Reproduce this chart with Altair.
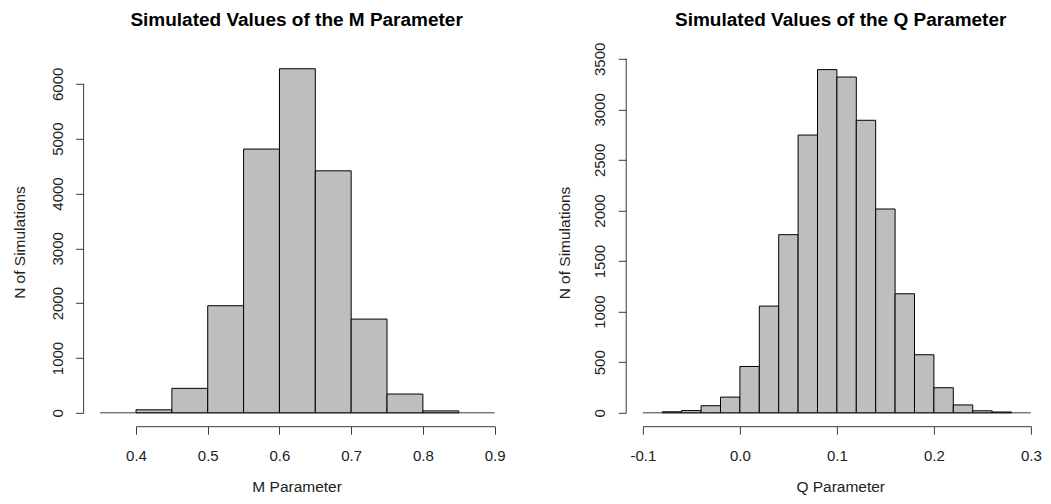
import altair as alt
import pandas as pd

# ---- data ----
m_bin_start = [0.40, 0.45, 0.50, 0.55, 0.60, 0.65, 0.70, 0.75, 0.80]
m_counts = [55, 446, 1953, 4810, 6275, 4413, 1709, 342, 35]
m_bin_width = 0.05
m_baseline = [0.35, 0.9]
m_xticks = [0.4, 0.5, 0.6, 0.7, 0.8, 0.9]
m_yticks = [0, 1000, 2000, 3000, 4000, 5000, 6000]

q_bin_start = [-0.08, -0.06, -0.04, -0.02, 0.00, 0.02, 0.04, 0.06, 0.08,
               0.10, 0.12, 0.14, 0.16, 0.18, 0.20, 0.22, 0.24, 0.26]
q_counts = [10, 22, 70, 155, 458, 1055, 1761, 2746, 3393,
            3320, 2892, 2015, 1177, 574, 248, 78, 20, 8]
q_bin_width = 0.02
q_baseline = [-0.1, 0.3]
q_xticks = [-0.1, 0.0, 0.1, 0.2, 0.3]
q_yticks = [0, 500, 1000, 1500, 2000, 2500, 3000, 3500]

FONT = "Liberation Sans"
BAR_FILL = "#bebebe"
AXIS_COLOR = "#3a3a3a"
LABEL_COLOR = "#222222"
PLOT_H = 354

x_label_expr = ("datum.value < 0 ? '-' + format(abs(datum.value), '.1f') "
                ": format(datum.value, '.1f')")


def panel(starts, counts, width_bin, baseline, xticks, yticks, y_top, title,
          xtitle, w, y_offset, title_offset, title_dx, xtitle_x, ytitle_x,
          ytitle_y):
    df = pd.DataFrame({"start": starts, "count": counts})
    df["end"] = df["start"] + width_bin
    base_df = pd.DataFrame({"x": [baseline[0]], "x2": [baseline[1]], "y": [0]})
    yline_df = pd.DataFrame({"y": [yticks[0]], "y2": [yticks[-1]]})

    xscale = alt.Scale(domain=[xticks[0], xticks[-1]], nice=False, zero=False)
    yscale = alt.Scale(domain=[yticks[0], y_top], nice=False, zero=False)

    xaxis = alt.Axis(values=xticks, labelExpr=x_label_expr, grid=False,
                     offset=13.4, tickSize=8, tickColor=AXIS_COLOR,
                     domainColor=AXIS_COLOR, domainWidth=1, tickWidth=1,
                     labelFont=FONT, labelFontSize=15, labelColor=LABEL_COLOR,
                     labelBaseline="alphabetic", labelPadding=26.3,
                     labelFlush=False, labelOverlap=False,
                     title=xtitle, titleFont=FONT, titleFontSize=15.5,
                     titleFontWeight="normal", titleColor=LABEL_COLOR,
                     titleX=xtitle_x, titleY=65.5, titleBaseline="alphabetic",
                     titleAlign="center")
    yaxis = alt.Axis(values=yticks, format="d", grid=False, domain=False,
                     offset=y_offset, tickSize=8, tickColor=AXIS_COLOR,
                     tickWidth=1,
                     labelFont=FONT, labelFontSize=15, labelColor=LABEL_COLOR,
                     labelAngle=270, labelAlign="center",
                     labelBaseline="alphabetic", labelPadding=13.5,
                     labelFlush=False, labelOverlap=False,
                     title="N of Simulations", titleFont=FONT,
                     titleFontSize=15.5, titleFontWeight="normal",
                     titleColor=LABEL_COLOR, titleAngle=270,
                     titleX=ytitle_x, titleY=ytitle_y,
                     titleBaseline="alphabetic", titleAlign="center")

    bars = alt.Chart(df).mark_rect(fill=BAR_FILL, stroke="black",
                                   strokeWidth=1).encode(
        x=alt.X("start:Q", scale=xscale, axis=xaxis),
        x2="end:Q",
        y=alt.Y("count:Q", scale=yscale, axis=yaxis),
        y2=alt.datum(0),
    )
    base = alt.Chart(base_df).mark_rule(color=AXIS_COLOR, strokeWidth=1).encode(
        x=alt.X("x:Q", scale=xscale),
        x2="x2:Q",
        y=alt.Y("y:Q", scale=yscale),
    )
    # y axis line spanning only the first to the last tick (R style)
    yline = alt.Chart(yline_df).mark_rule(color=AXIS_COLOR, strokeWidth=1).encode(
        x=alt.value(-y_offset),
        y=alt.Y("y:Q", scale=yscale),
        y2="y2:Q",
    )
    return alt.layer(base, yline, bars).properties(
        width=w, height=PLOT_H,
        title=alt.TitleParams(text=title, font=FONT, fontSize=19,
                              fontWeight="bold", color="black",
                              anchor="middle", frame="group",
                              baseline="alphabetic",
                              offset=title_offset, dx=title_dx),
    )


left = panel(m_bin_start, m_counts, m_bin_width, m_baseline, m_xticks, m_yticks,
             6000 * 354 / 329,
             "Simulated Values of the M Parameter", "M Parameter",
             w=358.6, y_offset=52.4, title_offset=14.0, title_dx=-18.7,
             xtitle_x=160.6, ytitle_x=-58.8, ytitle_y=183.2)

right = panel(q_bin_start, q_counts, q_bin_width, q_baseline, q_xticks, q_yticks,
              3500,
              "Simulated Values of the Q Parameter", "Q Parameter",
              w=388, y_offset=16.7, title_offset=-2.7, title_dx=3.8,
              xtitle_x=197.3, ytitle_x=-57, ytitle_y=183.7)

chart = alt.hconcat(left, right, spacing=50.9).properties(
    padding={"left": 4, "top": 2.8, "right": 0, "bottom": 0},
    background="white",
).configure_view(stroke=None)

chart.save("out.html", embed_options={"renderer": "svg", "actions": False})
